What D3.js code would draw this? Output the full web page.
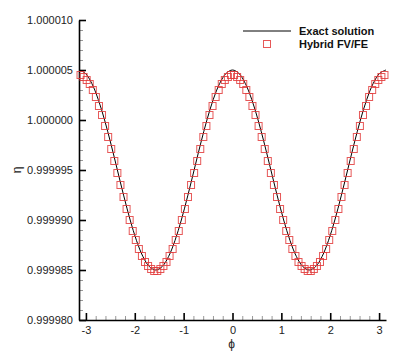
<!DOCTYPE html>
<html lang="en">
<head>
  <meta charset="UTF-8" />
  <title>Exact vs Hybrid FV/FE</title>
  <script src="https://d3js.org/d3.v7.min.js"></script>
  <style>
    body { margin: 0; background: #fff; }
    text { font-family: "Liberation Sans", Arial, Helvetica, sans-serif; }
  </style>
</head>
<body>
  <svg id="chart" width="407" height="362"></svg>

  <script>
    // exact solution, sampled along phi
    const exactPhi = [-3.1416, -3.0107, -2.8798, -2.7489, -2.6180, -2.4871, -2.3562, -2.2253, -2.0944, -1.9635,
      -1.8326, -1.7017, -1.5708, -1.4399, -1.3090, -1.1781, -1.0472, -0.9163, -0.7854, -0.6545, -0.5236,
      -0.3927, -0.2618, -0.1309, 0, 0.1309, 0.2618, 0.3927, 0.5236, 0.6545, 0.7854, 0.9163, 1.0472, 1.1781,
      1.3090, 1.4399, 1.5708, 1.7017, 1.8326, 1.9635, 2.0944, 2.2253, 2.3562, 2.4871, 2.6180, 2.7489, 2.8798,
      3.0107, 3.1416];
    const exactEta = [1.00000500, 1.00000466, 1.00000366, 1.00000207, 1.00000000, 0.99999759, 0.99999500,
      0.99999241, 0.99999000, 0.99998793, 0.99998634, 0.99998534, 0.99998500, 0.99998534, 0.99998634,
      0.99998793, 0.99999000, 0.99999241, 0.99999500, 0.99999759, 1.00000000, 1.00000207, 1.00000366,
      1.00000466, 1.00000500, 1.00000466, 1.00000366, 1.00000207, 1.00000000, 0.99999759, 0.99999500,
      0.99999241, 0.99999000, 0.99998793, 0.99998634, 0.99998534, 0.99998500, 0.99998534, 0.99998634,
      0.99998793, 0.99999000, 0.99999241, 0.99999500, 0.99999759, 1.00000000, 1.00000207, 1.00000366,
      1.00000466, 1.00000500];

    // hybrid FV/FE cell values
    const hybridPhi = [-3.1102, -3.0473, -2.9845, -2.9217, -2.8588, -2.7960, -2.7332, -2.6704, -2.6075, -2.5447,
      -2.4819, -2.4190, -2.3562, -2.2934, -2.2305, -2.1677, -2.1049, -2.0420, -1.9792, -1.9164,
      -1.8535, -1.7907, -1.7279, -1.6650, -1.6022, -1.5394, -1.4765, -1.4137, -1.3509, -1.2881,
      -1.2252, -1.1624, -1.0996, -1.0367, -0.9739, -0.9111, -0.8482, -0.7854, -0.7226, -0.6597,
      -0.5969, -0.5341, -0.4712, -0.4084, -0.3456, -0.2827, -0.2199, -0.1571, -0.0942, -0.0314,
      0.0314, 0.0942, 0.1571, 0.2199, 0.2827, 0.3456, 0.4084, 0.4712, 0.5341, 0.5969,
      0.6597, 0.7226, 0.7854, 0.8482, 0.9111, 0.9739, 1.0367, 1.0996, 1.1624, 1.2252,
      1.2881, 1.3509, 1.4137, 1.4765, 1.5394, 1.6022, 1.6650, 1.7279, 1.7907, 1.8535,
      1.9164, 1.9792, 2.0420, 2.1049, 2.1677, 2.2305, 2.2934, 2.3562, 2.4190, 2.4819,
      2.5447, 2.6075, 2.6704, 2.7332, 2.7960, 2.8588, 2.9217, 2.9845, 3.0473, 3.1102];
    const hybridEta = [1.0000045, 1.0000043, 1.0000040, 1.0000036, 1.0000030, 1.0000023, 1.0000014, 1.0000005,
      0.9999994, 0.9999983, 0.9999971, 0.9999959, 0.9999947, 0.9999935, 0.9999923, 0.9999911, 0.9999900,
      0.9999889, 0.9999880, 0.9999871, 0.9999864, 0.9999858, 0.9999854, 0.9999851, 0.9999849,
      0.9999849, 0.9999851, 0.9999854, 0.9999858, 0.9999864, 0.9999871, 0.9999880, 0.9999889, 0.9999900,
      0.9999911, 0.9999923, 0.9999935, 0.9999947, 0.9999959, 0.9999971, 0.9999983, 0.9999994, 1.0000005,
      1.0000014, 1.0000023, 1.0000030, 1.0000036, 1.0000040, 1.0000043, 1.0000045,
      1.0000045, 1.0000043, 1.0000040, 1.0000036, 1.0000030, 1.0000023, 1.0000014, 1.0000005,
      0.9999994, 0.9999983, 0.9999971, 0.9999959, 0.9999947, 0.9999935, 0.9999923, 0.9999911, 0.9999900,
      0.9999889, 0.9999880, 0.9999871, 0.9999864, 0.9999858, 0.9999854, 0.9999851, 0.9999849,
      0.9999849, 0.9999851, 0.9999854, 0.9999858, 0.9999864, 0.9999871, 0.9999880, 0.9999889, 0.9999900,
      0.9999911, 0.9999923, 0.9999935, 0.9999947, 0.9999959, 0.9999971, 0.9999983, 0.9999994, 1.0000005,
      1.0000014, 1.0000023, 1.0000030, 1.0000036, 1.0000040, 1.0000043, 1.0000045];

    const xTicks = [-3, -2, -1, 0, 1, 2, 3];
    const yTicks = [0.99998, 0.999985, 0.99999, 0.999995, 1.0, 1.000005, 1.00001];
    const seriesNames = ["Exact solution", "Hybrid FV/FE"];

    const plotLeft = 79, plotRight = 386, plotTop = 20, plotBottom = 320;
    const red = "#e23b3b";

    const svg = d3.select("#chart");

    const x = d3.scaleLinear().domain([-Math.PI, Math.PI]).range([plotLeft, plotRight]);
    const y = d3.scaleLinear().domain([0.99998, 1.00001]).range([plotBottom, plotTop]);

    // minor ticks first so the majors sit on top
    const xMinor = d3.range(-3, 3.01, 0.2).filter(v => Math.abs(v - Math.round(v)) > 0.01);
    const yMinor = d3.range(0, 31).map(i => 0.99998 + i * 0.000001).filter((v, i) => i % 5 !== 0);

    svg.append("g")
      .attr("transform", `translate(0,${plotBottom})`)
      .call(d3.axisBottom(x).tickValues(xMinor).tickSize(-4).tickFormat(""))
      .call(g => g.select(".domain").remove())
      .call(g => g.selectAll("line").attr("stroke", "#999").attr("stroke-width", 1));

    svg.append("g")
      .attr("transform", `translate(${plotLeft},0)`)
      .call(d3.axisLeft(y).tickValues(yMinor).tickSize(-4).tickFormat(""))
      .call(g => g.select(".domain").remove())
      .call(g => g.selectAll("line").attr("stroke", "#999").attr("stroke-width", 1));

    // plain hyphen minus, like the original
    const xAxis = svg.append("g")
      .attr("transform", `translate(0,${plotBottom})`)
      .call(d3.axisBottom(x).tickValues(xTicks).tickSizeInner(-7).tickSizeOuter(0)
        .tickPadding(6).tickFormat(d => String(d)));

    const yAxis = svg.append("g")
      .attr("transform", `translate(${plotLeft},0)`)
      .call(d3.axisLeft(y).tickValues(yTicks).tickSizeInner(-7).tickSizeOuter(0)
        .tickPadding(6).tickFormat(d3.format(".6f")));

    [xAxis, yAxis].forEach(g => {
      g.select(".domain").attr("stroke", "#000").attr("stroke-width", 1.6);
      g.selectAll(".tick line").attr("stroke", "#000").attr("stroke-width", 1.6);
      g.selectAll(".tick text").attr("fill", "#222").style("font-size", "11px")
        .style("font-family", "'Liberation Sans', Arial, sans-serif");
    });

    // axis titles
    svg.append("text")
      .attr("x", (plotLeft + plotRight) / 2 - 1)
      .attr("y", 348)
      .attr("text-anchor", "middle")
      .attr("font-size", 12)
      .attr("fill", "#222")
      .text("ϕ");

    svg.append("text")
      .attr("transform", "translate(21,170) rotate(-90)")
      .attr("text-anchor", "middle")
      .attr("font-size", 12)
      .attr("fill", "#222")
      .text("η");

    // exact solution
    const line = d3.line()
      .x((d, i) => x(exactPhi[i]))
      .y(d => y(d))
      .curve(d3.curveCatmullRom);

    svg.append("path")
      .datum(exactEta)
      .attr("d", line)
      .attr("fill", "none")
      .attr("stroke", "#000")
      .attr("stroke-width", 1);

    // hybrid markers
    const ms = 7;
    svg.append("g")
      .selectAll("rect")
      .data(hybridEta)
      .join("rect")
      .attr("x", (d, i) => x(hybridPhi[i]) - ms / 2)
      .attr("y", d => y(d) - ms / 2)
      .attr("width", ms)
      .attr("height", ms)
      .attr("fill", "none")
      .attr("stroke", red)
      .attr("stroke-width", 1)
      .attr("opacity", 0.85);

    // legend
    const legend = svg.append("g");
    legend.append("line")
      .attr("x1", 243).attr("x2", 291)
      .attr("y1", 31).attr("y2", 31)
      .attr("stroke", "#000").attr("stroke-width", 1);
    legend.append("rect")
      .attr("x", 267 - ms / 2).attr("y", 44 - ms / 2)
      .attr("width", ms).attr("height", ms)
      .attr("fill", "none").attr("stroke", red).attr("opacity", 0.85);
    legend.selectAll("text")
      .data(seriesNames)
      .join("text")
      .attr("x", 299)
      .attr("y", (d, i) => 35 + i * 12.5)
      .attr("font-size", 11)
      .attr("font-weight", "bold")
      .attr("fill", "#111")
      .text(d => d);
  </script>
</body>
</html>
